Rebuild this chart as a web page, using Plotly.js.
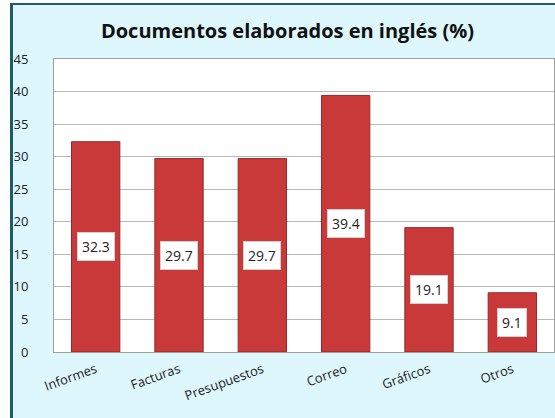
<!DOCTYPE html>
<html>
<head>
<meta charset="utf-8">
<script src="https://cdn.plot.ly/plotly-3.0.1.min.js"></script>
<style>
  html, body { margin: 0; padding: 0; background: #ffffff; }
  #bg { position: absolute; left: 10px; top: 3px; width: 545px; height: 415px;
        background: #def7fc; border-left: 3px solid #1e5b6b; border-top: 2px solid #1e5b6b; box-sizing: border-box; }
  #chart { position: absolute; left: 0; top: 0; width: 555px; height: 418px; }
</style>
</head>
<body>
<div id="bg"></div>
<div id="chart"></div>
<script>
const categories = ["Informes", "Facturas", "Presupuestos", "Correo", "Gráficos", "Otros"];
const values = [32.3, 29.7, 29.7, 39.4, 19.1, 9.1];
const yTicks = [0, 5, 10, 15, 20, 25, 30, 35, 40, 45];

const FONT = "'Open Sans', 'Noto Sans', sans-serif";

const trace = {
  type: "bar",
  x: categories,
  y: values,
  marker: { color: "#c9393a", line: { color: "#9a2727", width: 1 } },
  hoverinfo: "skip"
};

const annotations = categories.map((c, i) => ({
  x: c, y: values[i] / 2, xref: "x", yref: "y",
  text: values[i].toFixed(1),
  showarrow: false,
  bgcolor: "#ffffff",
  bordercolor: "#d0d0d0",
  borderwidth: 1,
  borderpad: 4,
  font: { family: FONT, size: 14, color: "#222222" }
}));

const layout = {
  width: 555, height: 418,
  margin: { l: 54, r: 1, t: 59, b: 66 },
  paper_bgcolor: "rgba(0,0,0,0)",
  plot_bgcolor: "#ffffff",
  title: {
    text: "<b>Documentos elaborados en inglés (%)</b>",
    x: 0.518, xanchor: "center", y: 0.925, yanchor: "middle",
    font: { family: FONT, size: 20, color: "#111111" }
  },
  bargap: 0.42,
  showlegend: false,
  xaxis: {
    tickangle: -20,
    tickfont: { family: FONT, size: 13, color: "#222222" },
    showline: true, linecolor: "#a0a0a0", linewidth: 1, mirror: true,
    ticks: "", ticklabelstandoff: 4,
    fixedrange: true
  },
  yaxis: {
    range: [0, 45],
    tickvals: yTicks,
    ticktext: yTicks.map(String),
    tickfont: { family: FONT, size: 13, color: "#222222" },
    showgrid: true, gridcolor: "#b8b8b8", gridwidth: 1,
    showline: true, linecolor: "#a0a0a0", linewidth: 1, mirror: true,
    zeroline: false,
    ticks: "", ticklabelstandoff: 22,
    fixedrange: true
  },
  annotations: annotations
};

Plotly.newPlot("chart", [trace], layout, { displayModeBar: false, staticPlot: true });
</script>
</body>
</html>
